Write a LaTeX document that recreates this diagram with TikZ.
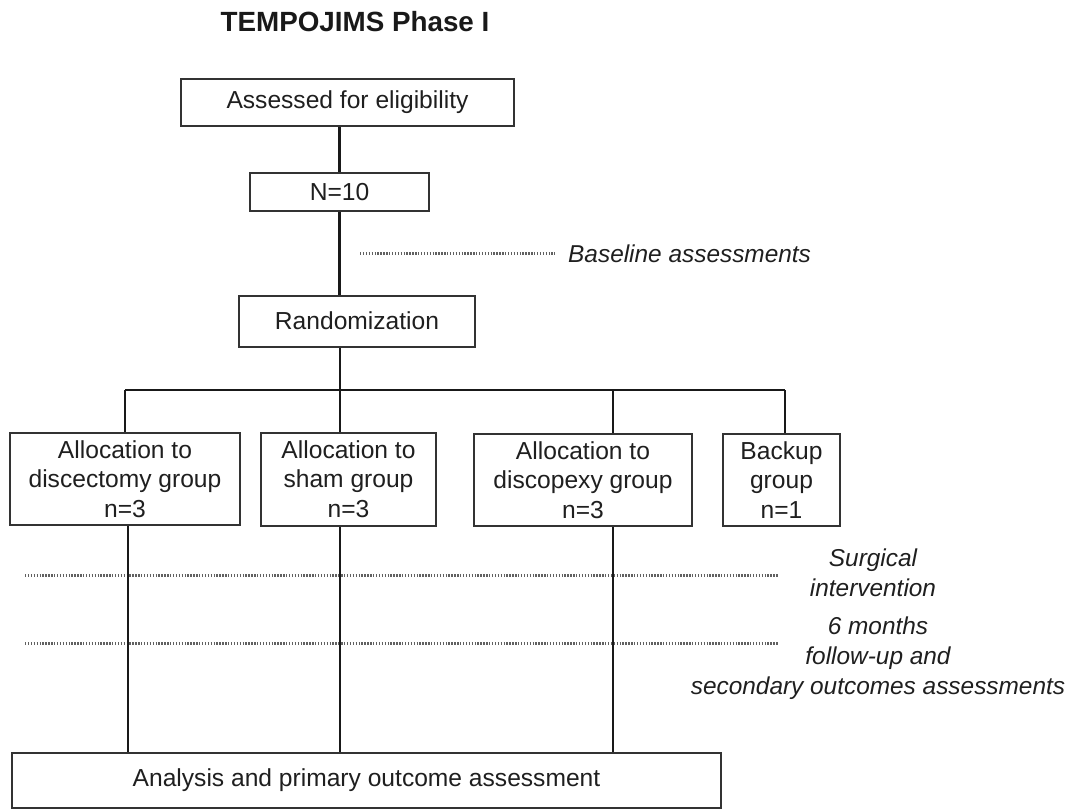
\documentclass[tikz,border=0pt]{standalone}
\usepackage{fontspec}
\setmainfont{Liberation Sans}
\begin{document}
\begin{tikzpicture}[x=1pt,y=-1pt,
  box/.style={draw=black!80, line width=2pt, fill=white, inner sep=0pt, align=center,
    text=black!88, font=\fontsize{24.6}{29.2}\selectfont},
  conn/.style={draw=black!90, line width=2.4pt},
  dots/.style={draw=black!62, line width=3pt, dash pattern=on 1.4pt off 1.5pt},
  lab/.style={text=black!88, inner sep=0pt, align=center, font=\fontsize{24.4}{29.8}\selectfont\itshape}]
\useasboundingbox (0,0) rectangle (1070,809);
\node[text=black!90, font=\fontsize{27.8}{30}\selectfont\bfseries] (title) at (355,22) {TEMPOJIMS Phase I};
% dotted lines
\coordinate (bl1) at (360,253);
\coordinate (bl2) at (555,253);
\coordinate (s1) at (25,575);
\coordinate (s2) at (778,575);
\coordinate (f1) at (25,643);
\coordinate (f2) at (778,643);
\draw[dots] (bl1) -- (bl2);
\draw[dots] (s1) -- (s2);
\draw[dots] (f1) -- (f2);
% boxes
\node[box, minimum width=333pt, minimum height=47pt] (assess) at (347.5,102.5) {Assessed for eligibility};
\node[box, minimum width=179pt, minimum height=38pt] (n10) at (339.5,192) {N=10};
\node[box, minimum width=236pt, minimum height=51pt] (rand) at (357,321) {Randomization};
\node[box, minimum width=230pt, minimum height=92pt] (g1) at (125,479) {Allocation to\\discectomy group\\n=3};
\node[box, minimum width=175pt, minimum height=93pt] (g2) at (348.5,479) {Allocation to\\sham group\\n=3};
\node[box, minimum width=218pt, minimum height=92pt] (g3) at (583,480) {Allocation to\\discopexy group\\n=3};
\node[box, minimum width=117pt, minimum height=92pt] (g4) at (781.5,480) {Backup\\group\\n=1};
\node[box, minimum width=709pt, minimum height=55pt] (ana) at (366.5,780.5) {Analysis and primary outcome assessment};
% labels
\node[lab, anchor=west] (base) at (568,254) {Baseline assessments};
\node[lab] (surg) at (873,573) {Surgical\\intervention};
\node[lab] (follow) at (878,658) {6 months\\follow-up and\\secondary outcomes assessments};
% connectors
\coordinate (b1) at (125,390);
\coordinate (b2) at (340,390);
\coordinate (b3) at (613,390);
\coordinate (b4) at (785,390);
\draw[conn] (n10.north |- assess.south) -- (n10.north);
\draw[conn] (n10.south) -- (n10.south |- rand.north);
\draw[conn] (rand.south -| b2) -- (b2);
\draw[conn] (b1) -- (b4);
\draw[conn] (b1) -- (b1 |- g1.north);
\draw[conn] (b2) -- (b2 |- g2.north);
\draw[conn] (b3) -- (b3 |- g3.north);
\draw[conn] (b4) -- (b4 |- g4.north);
\draw[conn] ([xshift=3pt]g1.south) -- ([xshift=3pt]g1.south |- ana.north);
\draw[conn] ([xshift=-8.5pt]g2.south) -- ([xshift=-8.5pt]g2.south |- ana.north);
\draw[conn] ([xshift=30pt]g3.south) -- ([xshift=30pt]g3.south |- ana.north);
\end{tikzpicture}
\end{document}
